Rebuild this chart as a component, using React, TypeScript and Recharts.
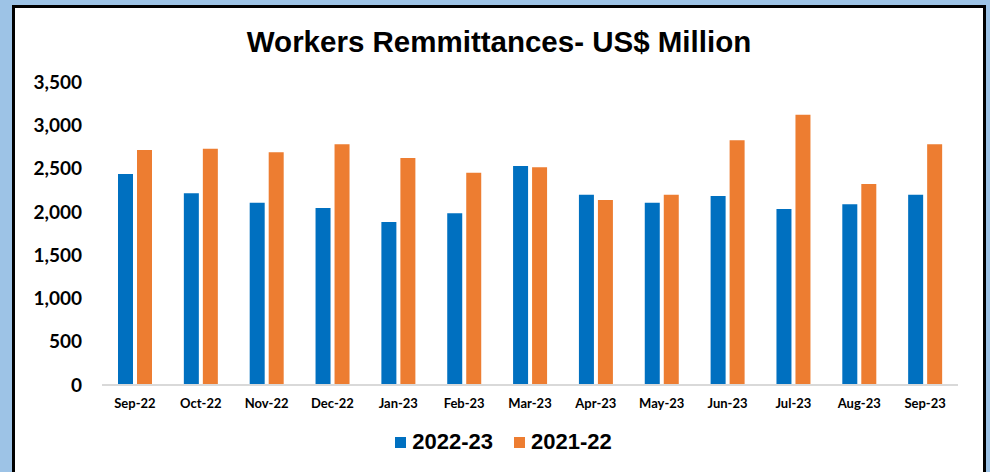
import React from 'react';
import { BarChart, Bar, XAxis, YAxis } from 'recharts';

const months = ['Sep-22', 'Oct-22', 'Nov-22', 'Dec-22', 'Jan-23', 'Feb-23', 'Mar-23', 'Apr-23', 'May-23', 'Jun-23', 'Jul-23', 'Aug-23', 'Sep-23'];
const fy2223 = [2437, 2214, 2106, 2045, 1883, 1983, 2530, 2198, 2106, 2183, 2033, 2087, 2198];
const fy2122 = [2715, 2730, 2688, 2780, 2622, 2452, 2515, 2137, 2198, 2826, 3122, 2322, 2780];
const yTicks = [0, 500, 1000, 1500, 2000, 2500, 3000, 3500];
const seriesNames = ['2022-23', '2021-22'];
const colors = ['#0070C0', '#ED7D31'];

const data = months.map((m, i) => ({ month: m, a: fy2223[i], b: fy2122[i] }));

const LegendBox = () => (
  <div style={{ position: 'absolute', left: 0, top: 429, width: 990, display: 'flex', justifyContent: 'center', alignItems: 'center', paddingLeft: 17, boxSizing: 'border-box', fontFamily: '"Liberation Sans", Arial, sans-serif', fontWeight: 700, fontSize: 22, color: '#000' }}>
    {seriesNames.map((n, i) => (
      <div key={n} style={{ display: 'flex', alignItems: 'center', marginRight: i === 0 ? 21 : 0 }}>
        <span style={{ display: 'inline-block', width: 11, height: 11, background: colors[i], marginRight: 6 }} />
        <span>{n}</span>
      </div>
    ))}
  </div>
);

export default function App() {
  return (
    <div style={{ position: 'absolute', left: 0, top: 0, width: 990, height: 472, background: '#9DC3E6', overflow: 'hidden' }}>
      <div style={{ position: 'absolute', left: 12, top: 5, width: 968, height: 480, border: '3px solid #000', background: '#fff' }} />
      <div style={{ position: 'absolute', left: 0, top: 25, width: 998, textAlign: 'center', fontFamily: '"Liberation Sans", Arial, sans-serif', fontWeight: 700, fontSize: 29.5, color: '#000' }}>
        Workers Remmittances- US$ Million
      </div>
      <div style={{ position: 'absolute', left: 0, top: 0 }}>
        <BarChart width={990} height={472} data={data} margin={{ top: 82, right: 32, left: 0, bottom: 0 }} barSize={15} barGap={4}>
          <XAxis dataKey="month" axisLine={{ stroke: '#D9D9D9', strokeWidth: 2 }} tickLine={false} tickSize={0} tickMargin={14} interval={0}
            tick={{ fill: '#000', fontFamily: 'Lato, sans-serif', fontWeight: 700, fontSize: 13 }} height={87} />
          <YAxis domain={[0, 3500]} ticks={yTicks} axisLine={false} tickLine={false} tickSize={0} tickMargin={20} width={102}
            tickFormatter={(v: number) => v.toLocaleString('en-US')}
            tick={{ fill: '#000', fontFamily: 'Lato, sans-serif', fontWeight: 700, fontSize: 19 }} />
          <Bar dataKey="a" name={seriesNames[0]} fill={colors[0]} isAnimationActive={false} />
          <Bar dataKey="b" name={seriesNames[1]} fill={colors[1]} isAnimationActive={false} />
        </BarChart>
      </div>
      <LegendBox />
    </div>
  );
}
